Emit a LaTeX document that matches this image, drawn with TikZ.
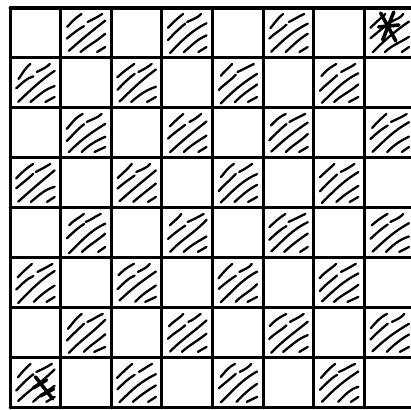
\documentclass[tikz,border=0pt]{standalone}
\usetikzlibrary{calc}

\tikzset{
  gridline/.style={line width=1.7pt, line cap=round},
  hatch/.style={line width=1.3pt, line cap=round},
  crossmark/.style={line width=2pt, line cap=round}
}

\begin{document}
\begin{tikzpicture}[x=1cm,y=0.9875cm]
    % frame of the picture, board runs off on the right
    \useasboundingbox (-0.2,-0.04) rectangle (7.92,8.16);
    \clip (-0.2,-0.04) rectangle (7.92,8.16);
    \fill[white] (-0.2,-0.04) rectangle (7.92,8.16);

    % hatched squares
    \pgfmathsetseed{11}
    \foreach \c in {0,...,7} {
        \foreach \j in {0,...,7} {
            \pgfmathtruncatemacro\odd{mod(\c+\j,2)}
            \ifnum\odd=0
            \begin{scope}[shift={(\c,\j)}]
                \draw[hatch] (0.14+0.03*rand,0.62+0.04*rand) to[bend left=4] (0.42+0.04*rand,0.88);
                \draw[hatch] (0.12,0.36+0.04*rand) to[bend left=4] (0.46,0.66+0.03*rand);
                \draw[hatch] (0.52+0.03*rand,0.72) to[bend right=4] (0.8+0.04*rand,0.88);
                \draw[hatch] (0.16,0.12+0.03*rand) to[bend left=5] (0.88,0.72+0.05*rand);
                \draw[hatch] (0.44+0.05*rand,0.12) to[bend left=5] (0.88,0.46+0.04*rand);
                \draw[hatch] (0.7+0.04*rand,0.12) -- (0.88,0.22);
            \end{scope}
            \fi
        }
    }

    % grid
    \foreach \i in {0,...,8} {
        \draw[gridline] (\i,0) -- (\i,8);
        \draw[gridline] (0,\i) -- (8,\i);
    }

    % crosses in the corner squares
    \draw[crossmark] (7.32,7.9) -- (7.62,7.34);
    \draw[crossmark] (7.36,7.36) -- (7.58,7.92);
    \draw[crossmark] (7.28,7.62) -- (7.68,7.66);

    \draw[crossmark] (0.5,0.62) -- (0.84,0.18);
    \draw[crossmark] (0.46,0.4) -- (0.72,0.56);
    \draw[crossmark] (0.6,0.24) -- (0.86,0.38);
\end{tikzpicture}
\end{document}
